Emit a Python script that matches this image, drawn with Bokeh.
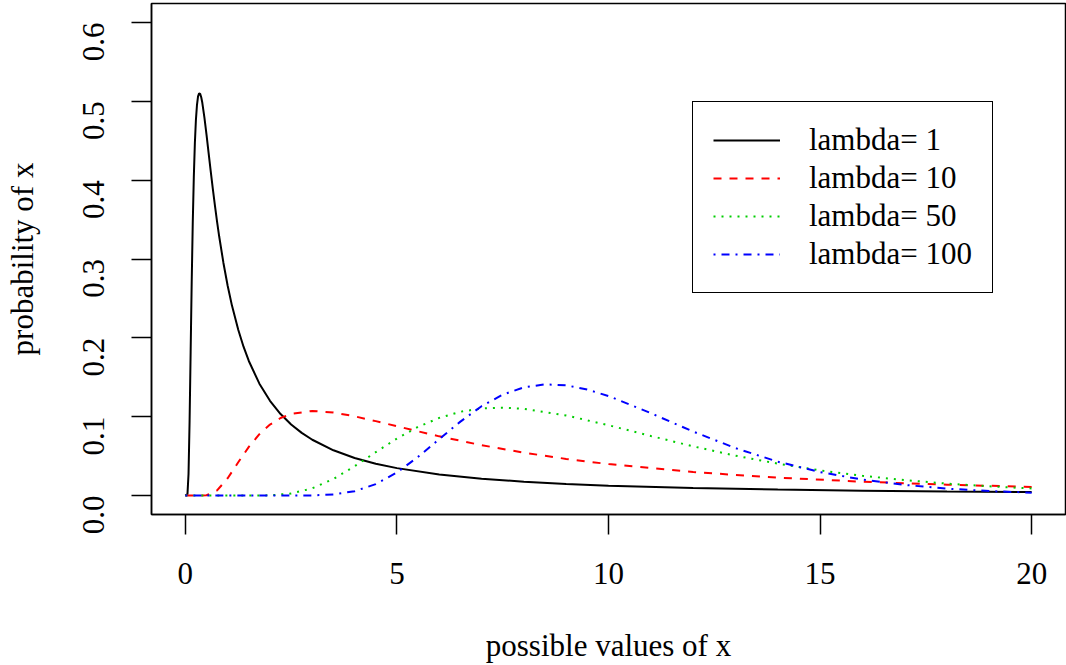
import math
from bokeh.plotting import figure
from bokeh.models import Range1d, FixedTicker, Legend, LegendItem, PrintfTickFormatter
from bokeh.embed import file_html
from bokeh.resources import INLINE

# values
x_l1 = [0, 0.05, 0.075, 0.1, 0.125, 0.15, 0.175, 0.2, 0.225, 0.25, 0.275, 0.3, 0.325, 0.35, 0.375, 0.4,
        0.45, 0.5, 0.55, 0.6, 0.65, 0.7, 0.75, 0.8, 0.9, 1, 1.1, 1.25, 1.375, 1.5, 1.75, 2, 2.25, 2.5,
        2.75, 3, 3.5, 4, 4.5, 5, 6, 7, 8, 9, 10, 12, 14, 16, 18, 20]
y_l1 = [0, 0.0018, 0.0273, 0.094, 0.1825, 0.2706, 0.3456, 0.404, 0.4472, 0.4768, 0.4956, 0.5062, 0.5101,
        0.5094, 0.5051, 0.4984, 0.4797, 0.4577, 0.4343, 0.4111, 0.3886, 0.3673, 0.3472, 0.3285, 0.2950,
        0.2661, 0.2412, 0.2102, 0.1888, 0.1707, 0.1419, 0.1202, 0.1034, 0.0902, 0.0795, 0.0708, 0.0574,
        0.0477, 0.0404, 0.0348, 0.0268, 0.0214, 0.0176, 0.0148, 0.0126, 0.0096, 0.0076, 0.0062, 0.0051,
        0.0044]

x_l10 = [0, 0.25, 0.5, 0.75, 1, 1.25, 1.5, 1.75, 2, 2.25, 2.5, 3, 3.5, 4, 4.5, 5, 6, 7, 8, 9, 10, 12, 14,
         16, 18, 20]
y_l10 = [0, 0.0, 0.0004, 0.0065, 0.0220, 0.0422, 0.0618, 0.0779, 0.0900, 0.0984, 0.1036, 0.1073, 0.1054,
         0.1005, 0.0944, 0.0879, 0.0751, 0.0639, 0.0544, 0.0465, 0.0399, 0.0298, 0.0227, 0.0176, 0.0138,
         0.0110]

x_l50 = [0, 1, 1.5, 2, 2.5, 3, 3.5, 4, 4.5, 5, 5.5, 6, 6.5, 7, 7.5, 8, 9, 10, 11, 12, 13, 14, 15, 16,
         17, 18, 19, 20]
y_l50 = [0, 0, 0, 0.0003, 0.0026, 0.0092, 0.0211, 0.0372, 0.0551, 0.0723, 0.0871, 0.0985, 0.1063, 0.1105,
         0.1115, 0.1100, 0.1016, 0.0892, 0.0756, 0.0624, 0.0506, 0.0405, 0.0320, 0.0251, 0.0196, 0.0152,
         0.0117, 0.0090]

x_l100 = [0, 1, 2, 2.5, 3, 3.5, 4, 4.5, 5, 5.5, 6, 6.5, 7, 7.5, 8, 8.5, 9, 9.5, 10, 11, 12, 13, 14, 15,
          16, 17, 18, 19, 20]
y_l100 = [0, 0, 0, 0, 0.0002, 0.0015, 0.0055, 0.0145, 0.0293, 0.0491, 0.0716, 0.0938, 0.1133, 0.1280,
          0.1373, 0.1410, 0.1398, 0.1345, 0.1262, 0.1045, 0.0812, 0.0602, 0.0430, 0.0298, 0.0202, 0.0135,
          0.0088, 0.0057, 0.0037]

labels = ["lambda= 1", "lambda= 10", "lambda= 50", "lambda= 100"]
x_ticks = [0, 5, 10, 15, 20]
y_ticks = [0.0, 0.1, 0.2, 0.3, 0.4, 0.5, 0.6]
x_title = "possible values of x"
y_title = "probability of x"

FONT = "Liberation Serif"
FS = "31px"

p = figure(width=1066, height=665, x_range=Range1d(-0.8, 20.8), y_range=Range1d(-0.024, 0.624),
           output_backend="svg", toolbar_location=None,
           min_border_left=151, min_border_right=1, min_border_top=3, min_border_bottom=151)
p.grid.visible = False
p.outline_line_color = "black"
p.outline_line_width = 1.5
p.background_fill_color = "white"
p.border_fill_color = "white"

for ax in (p.xaxis[0], p.yaxis[0]):
    ax.major_tick_out = 20
    ax.major_tick_in = 0
    ax.minor_tick_line_color = None
    ax.axis_line_color = "black"
    ax.axis_line_width = 1.5
    ax.major_tick_line_color = "black"
    ax.major_tick_line_width = 1.5
    ax.major_label_text_font = FONT
    ax.major_label_text_font_size = FS
    ax.major_label_text_color = "black"
    ax.axis_label_text_font = FONT
    ax.axis_label_text_font_size = FS
    ax.axis_label_text_font_style = "normal"
    ax.axis_label_text_color = "black"

p.xaxis.ticker = FixedTicker(ticks=x_ticks)
p.xaxis.major_label_standoff = 28
p.xaxis.axis_label = x_title
p.xaxis.axis_label_standoff = 41

p.yaxis.ticker = FixedTicker(ticks=y_ticks)
p.yaxis.formatter = PrintfTickFormatter(format="%.1f")
p.yaxis.major_label_orientation = math.pi / 2
p.yaxis.major_label_standoff = 38
p.yaxis.axis_label = y_title
p.yaxis.axis_label_standoff = 30

r1 = p.line(x_l1, y_l1, line_color="black", line_width=2)
r2 = p.line(x_l10, y_l10, line_color="#FF0000", line_width=2, line_dash="8 8")
r3 = p.line(x_l50, y_l50, line_color="#00CD00", line_width=2, line_dash="2 6")
r4 = p.line(x_l100, y_l100, line_color="#0000FF", line_width=2, line_dash="2 6 8 6")

legend = Legend(items=[LegendItem(label=labels[i], renderers=[r]) for i, r in enumerate([r1, r2, r3, r4])],
                location=(541, 221))
legend.label_text_font = FONT
legend.label_text_font_size = FS
legend.label_text_color = "black"
legend.glyph_width = 67
legend.glyph_height = 34
legend.label_height = 34
legend.spacing = 2
legend.padding = 20
legend.margin = 0
legend.label_standoff = 29
legend.border_line_color = "black"
legend.border_line_width = 1.5
legend.border_line_alpha = 1.0
legend.background_fill_color = "white"
legend.background_fill_alpha = 1.0
p.add_layout(legend, "center")

open("out.html", "w").write(file_html(p, INLINE))
